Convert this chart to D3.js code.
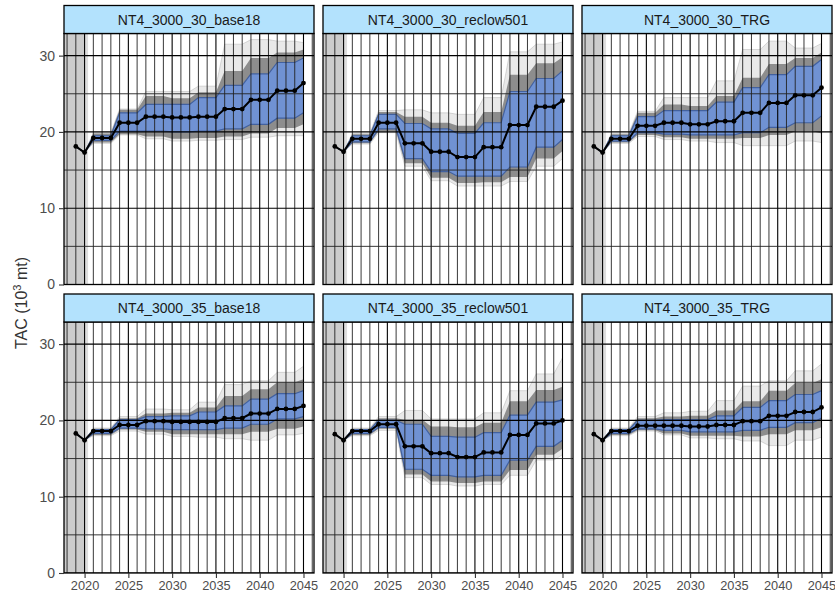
<!DOCTYPE html>
<html>
<head>
<meta charset="utf-8">
<script src="https://cdn.jsdelivr.net/npm/d3@7"></script>
<style>
  html, body { margin: 0; padding: 0; background: #ffffff; }
  svg { display: block; font-family: "Liberation Sans", Arial, Helvetica, sans-serif; }
</style>
</head>
<body>
<svg id="chart" width="835" height="599"></svg>
<script>
// ---------------- DATA ----------------
const years = [2019,2020,2021,2022,2023,2024,2025,2026,2027,2028,2029,2030,2031,2032,2033,2034,2035,2036,2037,2038,2039,2040,2041,2042,2043,2044,2045];
const panelTitles = ["NT4_3000_30_base18","NT4_3000_30_reclow501","NT4_3000_30_TRG","NT4_3000_35_base18","NT4_3000_35_reclow501","NT4_3000_35_TRG"];
const yTicks = [0,10,20,30];
const xTicks = [2020,2025,2030,2035,2040,2045];

// Panel 1: NT4_3000_30_base18
const med_30_base18 = [18.1,17.3,19.2,19.2,19.2,21.2,21.2,21.2,22.0,22.0,22.0,21.9,21.9,21.9,22.0,22.0,22.0,23.0,23.0,23.0,24.2,24.2,24.2,25.4,25.4,25.4,26.4];
const bLo_30_base18 = [18.1,17.3,18.9,18.9,18.9,20.1,20.1,20.1,20.1,20.1,20.1,20.0,20.0,20.0,20.1,20.1,20.1,20.4,20.4,20.4,21.0,21.0,21.0,21.8,21.8,21.8,22.5];
const bHi_30_base18 = [18.1,17.3,19.5,19.5,19.5,22.5,22.5,22.5,23.6,23.6,23.6,23.6,23.6,23.6,24.5,24.5,24.5,26.1,26.1,26.1,27.6,27.6,27.6,29.1,29.1,29.1,29.7];
const gLo_30_base18 = [18.1,17.3,18.6,18.6,18.6,19.7,19.7,19.7,19.4,19.4,19.4,19.1,19.1,19.1,19.2,19.2,19.2,19.4,19.4,19.4,19.8,19.8,19.8,20.5,20.5,20.5,21.0];
const gHi_30_base18 = [18.1,17.3,19.8,19.8,19.8,22.9,22.9,22.9,24.7,24.7,24.7,24.4,24.4,24.4,25.2,25.2,25.2,28.0,28.0,28.0,29.7,29.7,29.7,30.4,30.4,30.4,30.8];
const sLo_30_base18 = [18.1,17.3,18.5,18.5,18.5,19.6,19.6,19.6,19.1,19.1,19.1,18.8,18.8,18.8,18.9,18.9,18.9,19.0,19.0,19.0,19.3,19.3,19.3,19.5,19.5,19.5,19.5];
const sHi_30_base18 = [18.1,17.3,19.9,19.9,19.9,23.0,23.0,23.0,25.3,25.3,25.3,25.3,25.3,25.3,26.0,26.0,26.0,31.5,31.5,31.5,32.1,32.1,32.1,31.9,31.9,31.9,31.7];

// Panel 2: NT4_3000_30_reclow501
const med_30_reclow = [18.1,17.4,19.1,19.1,19.1,21.2,21.2,21.2,18.5,18.5,18.5,17.4,17.4,17.4,16.7,16.7,16.7,18.0,18.0,18.0,20.9,20.9,20.9,23.3,23.3,23.3,24.1];
const bLo_30_reclow = [18.1,17.4,18.7,18.7,18.7,20.4,20.4,20.4,16.5,16.5,16.5,14.8,14.8,14.8,14.2,14.2,14.2,14.2,14.2,14.2,15.4,15.4,15.4,18.0,18.0,18.0,19.0];
const bHi_30_reclow = [18.1,17.4,19.5,19.5,19.5,22.3,22.3,22.3,21.1,21.1,21.1,20.4,20.4,20.4,19.8,19.8,19.8,21.2,21.2,21.2,25.3,25.3,25.3,27.0,27.0,27.0,28.0];
const gLo_30_reclow = [18.1,17.4,18.5,18.5,18.5,20.1,20.1,20.1,15.9,15.9,15.9,14.0,14.0,14.0,13.3,13.3,13.3,13.4,13.4,13.4,14.1,14.1,14.1,16.5,16.5,16.5,17.5];
const gHi_30_reclow = [18.1,17.4,19.7,19.7,19.7,22.6,22.6,22.6,22.0,22.0,22.0,21.2,21.2,21.2,20.8,20.8,20.8,22.6,22.6,22.6,27.5,27.5,27.5,29.0,29.0,29.0,29.8];
const sLo_30_reclow = [18.1,17.4,18.4,18.4,18.4,19.9,19.9,19.9,15.5,15.5,15.5,13.6,13.6,13.6,12.9,12.9,12.9,12.9,12.9,12.9,13.5,13.5,13.5,15.5,15.5,15.5,16.5];
const sHi_30_reclow = [18.1,17.4,19.8,19.8,19.8,22.8,22.8,22.8,22.9,22.9,22.9,22.5,22.5,22.5,22.3,22.3,22.3,24.5,24.5,24.5,30.5,30.5,30.5,31.5,31.5,31.5,31.8];

// Panel 3: NT4_3000_30_TRG
const med_30_TRG = [18.1,17.3,19.1,19.1,19.1,20.8,20.8,20.8,21.2,21.2,21.2,21.0,21.0,21.0,21.4,21.4,21.4,22.5,22.5,22.5,23.8,23.8,23.8,24.8,24.8,24.8,25.8];
const bLo_30_TRG = [18.1,17.3,18.8,18.8,18.8,19.9,19.9,19.9,19.7,19.7,19.7,19.6,19.6,19.6,19.6,19.6,19.6,19.9,19.9,19.9,20.6,20.6,20.6,21.2,21.2,21.2,22.1];
const bHi_30_TRG = [18.1,17.3,19.5,19.5,19.5,22.0,22.0,22.0,22.8,22.8,22.8,22.8,22.8,22.8,23.9,23.9,23.9,25.8,25.8,25.8,27.5,27.5,27.5,28.6,28.6,28.6,29.5];
const gLo_30_TRG = [18.1,17.3,18.6,18.6,18.6,19.6,19.6,19.6,19.3,19.3,19.3,19.1,19.1,19.1,19.1,19.1,19.1,19.2,19.2,19.2,19.6,19.6,19.6,20.1,20.1,20.1,19.8];
const gHi_30_TRG = [18.1,17.3,19.7,19.7,19.7,22.5,22.5,22.5,23.6,23.6,23.6,23.4,23.4,23.4,24.7,24.7,24.7,27.1,27.1,27.1,28.9,28.9,28.9,29.7,29.7,29.7,30.4];
const sLo_30_TRG = [18.1,17.3,18.5,18.5,18.5,19.4,19.4,19.4,19.0,19.0,19.0,18.8,18.8,18.8,18.6,18.6,18.6,18.2,18.2,18.2,18.2,18.2,18.2,18.8,18.8,18.8,18.6];
const sHi_30_TRG = [18.1,17.3,19.8,19.8,19.8,22.7,22.7,22.7,24.5,24.5,24.5,24.5,24.5,24.5,26.7,26.7,26.7,30.8,30.8,30.8,31.9,31.9,31.9,31.0,31.0,31.0,31.6];

// Panel 4: NT4_3000_35_base18
const med_35_base18 = [18.3,17.4,18.6,18.6,18.6,19.4,19.4,19.4,19.9,19.9,19.9,19.8,19.8,19.8,19.8,19.8,19.8,20.3,20.3,20.3,20.9,20.9,20.9,21.5,21.5,21.5,21.9];
const bLo_35_base18 = [18.3,17.4,18.3,18.3,18.3,19.0,19.0,19.0,18.9,18.9,18.9,18.8,18.8,18.8,18.8,18.8,18.8,19.0,19.0,19.0,19.5,19.5,19.5,20.2,20.2,20.2,20.5];
const bHi_35_base18 = [18.3,17.4,18.8,18.8,18.8,20.1,20.1,20.1,20.5,20.5,20.5,20.6,20.6,20.6,21.1,21.1,21.1,21.9,21.9,21.9,22.8,22.8,22.8,23.5,23.5,23.5,23.9];
const gLo_35_base18 = [18.3,17.4,18.1,18.1,18.1,18.8,18.8,18.8,18.5,18.5,18.5,18.2,18.2,18.2,18.2,18.2,18.2,18.2,18.2,18.2,18.5,18.5,18.5,18.9,18.9,18.9,19.2];
const gHi_35_base18 = [18.3,17.4,18.9,18.9,18.9,20.3,20.3,20.3,20.9,20.9,20.9,21.0,21.0,21.0,21.7,21.7,21.7,23.2,23.2,23.2,24.1,24.1,24.1,25.0,25.0,25.0,25.4];
const sLo_35_base18 = [18.3,17.4,18.0,18.0,18.0,18.6,18.6,18.6,18.2,18.2,18.2,17.9,17.9,17.9,17.8,17.8,17.8,17.6,17.6,17.6,17.4,17.4,17.4,18.1,18.1,18.1,18.3];
const sHi_35_base18 = [18.3,17.4,19.0,19.0,19.0,20.5,20.5,20.5,21.5,21.5,21.5,21.4,21.4,21.4,22.4,22.4,22.4,24.7,24.7,24.7,25.2,25.2,25.2,26.3,26.3,26.3,27.1];

// Panel 5: NT4_3000_35_reclow501
const med_35_reclow = [18.2,17.4,18.6,18.6,18.6,19.5,19.5,19.5,16.6,16.6,16.6,15.7,15.7,15.7,15.2,15.2,15.2,15.8,15.8,15.8,18.1,18.1,18.1,19.6,19.6,19.6,20.0];
const bLo_35_reclow = [18.2,17.4,18.3,18.3,18.3,19.1,19.1,19.1,13.6,13.6,13.6,12.8,12.8,12.8,12.6,12.6,12.6,12.8,12.8,12.8,14.8,14.8,14.8,16.6,16.6,16.6,17.4];
const bHi_35_reclow = [18.2,17.4,18.8,18.8,18.8,20.0,20.0,20.0,19.5,19.5,19.5,17.9,17.9,17.9,17.8,17.8,17.8,18.4,18.4,18.4,20.7,20.7,20.7,22.4,22.4,22.4,22.7];
const gLo_35_reclow = [18.2,17.4,18.1,18.1,18.1,18.9,18.9,18.9,12.9,12.9,12.9,12.0,12.0,12.0,11.8,11.8,11.8,12.0,12.0,12.0,13.5,13.5,13.5,15.5,15.5,15.5,16.3];
const gHi_35_reclow = [18.2,17.4,18.9,18.9,18.9,20.3,20.3,20.3,20.1,20.1,20.1,19.2,19.2,19.2,19.1,19.1,19.1,19.7,19.7,19.7,22.5,22.5,22.5,24.0,24.0,24.0,24.4];
const sLo_35_reclow = [18.2,17.4,18.0,18.0,18.0,18.7,18.7,18.7,12.5,12.5,12.5,11.6,11.6,11.6,11.4,11.4,11.4,11.6,11.6,11.6,12.8,12.8,12.8,14.8,14.8,14.8,15.5];
const sHi_35_reclow = [18.2,17.4,19.0,19.0,19.0,20.5,20.5,20.5,21.3,21.3,21.3,20.2,20.2,20.2,20.2,20.2,20.2,21.0,21.0,21.0,23.9,23.9,23.9,26.1,26.1,26.1,28.2];

// Panel 6: NT4_3000_35_TRG
const med_35_TRG = [18.2,17.4,18.6,18.6,18.6,19.3,19.3,19.3,19.3,19.3,19.3,19.2,19.2,19.2,19.4,19.4,19.4,19.9,19.9,19.9,20.6,20.6,20.6,21.1,21.1,21.1,21.7];
const bLo_35_TRG = [18.2,17.4,18.3,18.3,18.3,18.9,18.9,18.9,18.7,18.7,18.7,18.5,18.5,18.5,18.5,18.5,18.5,18.7,18.7,18.7,19.1,19.1,19.1,19.7,19.7,19.7,20.3];
const bHi_35_TRG = [18.2,17.4,18.8,18.8,18.8,20.0,20.0,20.0,20.1,20.1,20.1,20.1,20.1,20.1,20.6,20.6,20.6,21.7,21.7,21.7,22.6,22.6,22.6,23.4,23.4,23.4,23.9];
const gLo_35_TRG = [18.2,17.4,18.1,18.1,18.1,18.7,18.7,18.7,18.3,18.3,18.3,18.0,18.0,18.0,18.0,18.0,18.0,17.9,17.9,17.9,18.2,18.2,18.2,18.7,18.7,18.7,19.1];
const gHi_35_TRG = [18.2,17.4,18.9,18.9,18.9,20.3,20.3,20.3,20.5,20.5,20.5,20.6,20.6,20.6,21.3,21.3,21.3,22.5,22.5,22.5,23.9,23.9,23.9,24.9,24.9,24.9,25.4];
const sLo_35_TRG = [18.2,17.4,18.0,18.0,18.0,18.6,18.6,18.6,18.1,18.1,18.1,17.7,17.7,17.7,17.6,17.6,17.6,17.3,17.3,17.3,16.7,16.7,16.7,17.4,17.4,17.4,17.8];
const sHi_35_TRG = [18.2,17.4,19.0,19.0,19.0,20.5,20.5,20.5,21.0,21.0,21.0,21.2,21.2,21.2,22.6,22.6,22.6,24.5,24.5,24.5,25.2,25.2,25.2,26.5,26.5,26.5,27.4];

const panels = [
  {title: panelTitles[0], med: med_30_base18, bLo: bLo_30_base18, bHi: bHi_30_base18, gLo: gLo_30_base18, gHi: gHi_30_base18, sLo: sLo_30_base18, sHi: sHi_30_base18},
  {title: panelTitles[1], med: med_30_reclow, bLo: bLo_30_reclow, bHi: bHi_30_reclow, gLo: gLo_30_reclow, gHi: gHi_30_reclow, sLo: sLo_30_reclow, sHi: sHi_30_reclow},
  {title: panelTitles[2], med: med_30_TRG, bLo: bLo_30_TRG, bHi: bHi_30_TRG, gLo: gLo_30_TRG, gHi: gHi_30_TRG, sLo: sLo_30_TRG, sHi: sHi_30_TRG},
  {title: panelTitles[3], med: med_35_base18, bLo: bLo_35_base18, bHi: bHi_35_base18, gLo: gLo_35_base18, gHi: gHi_35_base18, sLo: sLo_35_base18, sHi: sHi_35_base18},
  {title: panelTitles[4], med: med_35_reclow, bLo: bLo_35_reclow, bHi: bHi_35_reclow, gLo: gLo_35_reclow, gHi: gHi_35_reclow, sLo: sLo_35_reclow, sHi: sHi_35_reclow},
  {title: panelTitles[5], med: med_35_TRG, bLo: bLo_35_TRG, bHi: bHi_35_TRG, gLo: gLo_35_TRG, gHi: gHi_35_TRG, sLo: sLo_35_TRG, sHi: sHi_35_TRG}
];

// ---------------- LAYOUT ----------------
const svg = d3.select("#chart");
const colX = [64, 323, 582];
const rowY = [5.5, 294];
const stripH = 28;
const panelW = 250;
const plotH = 251;
const histEnd = 2020;

const x = d3.scaleLinear().domain([2017.65, 2046.2]).range([0, panelW]);
const y = d3.scaleLinear().domain([0, 32.9]).range([plotH, 0]);

function band(lo, hi) {
  return d3.area()
    .x((d, i) => x(years[i]))
    .y0((d, i) => y(lo[i]))
    .y1((d, i) => y(hi[i]))(years);
}
function lineOf(arr) {
  return d3.line().x((d, i) => x(years[i])).y((d, i) => y(arr[i]))(years);
}

panels.forEach((p, k) => {
  const col = k % 3, row = Math.floor(k / 3);
  const gx = colX[col], gy = rowY[row] + stripH;
  const g = svg.append("g").attr("transform", `translate(${gx},${gy})`);

  const clipId = "clip" + k;
  g.append("clipPath").attr("id", clipId)
    .append("rect").attr("width", panelW).attr("height", plotH);

  const body = g.append("g").attr("clip-path", `url(#${clipId})`);
  body.append("rect").attr("width", panelW).attr("height", plotH).attr("fill", "#ffffff");

  // historical period shading
  body.append("rect")
    .attr("x", 0).attr("y", 0)
    .attr("width", x(histEnd) - x(x.domain()[0]))
    .attr("height", plotH).attr("fill", "#cccccc");
  body.append("rect")
    .attr("x", x(histEnd)).attr("y", 0)
    .attr("width", x(histEnd + 0.4) - x(histEnd))
    .attr("height", plotH).attr("fill", "#dedede");

  // sparse outer envelope
  body.append("path").attr("d", band(p.sLo, p.sHi))
    .attr("fill", "#c8c8c8").attr("fill-opacity", 0.4)
    .attr("stroke", "#9a9a9a").attr("stroke-width", 0.6).attr("stroke-opacity", 0.6);
  // dense envelope
  body.append("path").attr("d", band(p.gLo, p.gHi))
    .attr("fill", "#6e6e6e").attr("fill-opacity", 0.75);
  // blue inner ribbon
  body.append("path").attr("d", band(p.bLo, p.bHi))
    .attr("fill", "#7092d3");
  body.append("path").attr("d", lineOf(p.bHi)).attr("fill", "none")
    .attr("stroke", "#42619f").attr("stroke-width", 1.2);
  body.append("path").attr("d", lineOf(p.bLo)).attr("fill", "none")
    .attr("stroke", "#42619f").attr("stroke-width", 1.2);

  // grid on top
  const grid = body.append("g");
  grid.selectAll("line.v").data(d3.range(2018, 2047)).join("line")
    .attr("x1", d => x(d)).attr("x2", d => x(d))
    .attr("y1", 0).attr("y2", plotH)
    .attr("stroke", d => d % 5 === 0 ? "#000000" : "#222222")
    .attr("stroke-width", d => d % 5 === 0 ? 1.1 : 0.9);
  grid.selectAll("line.h").data(d3.range(0, 31, 5)).join("line")
    .attr("x1", 0).attr("x2", panelW)
    .attr("y1", d => y(d)).attr("y2", d => y(d))
    .attr("stroke", d => d % 10 === 0 ? "#000000" : "#222222")
    .attr("stroke-width", d => d % 10 === 0 ? 1.1 : 0.9);

  // median
  body.append("path").attr("d", lineOf(p.med)).attr("fill", "none")
    .attr("stroke", "#000").attr("stroke-width", 2);
  body.selectAll("circle").data(p.med).join("circle")
    .attr("cx", (d, i) => x(years[i])).attr("cy", d => y(d))
    .attr("r", 2.4).attr("fill", "#000");

  // panel border
  g.append("rect").attr("width", panelW).attr("height", plotH)
    .attr("fill", "none").attr("stroke", "#000").attr("stroke-width", 1.3);

  // strip
  const s = svg.append("g").attr("transform", `translate(${gx},${rowY[row]})`);
  s.append("rect").attr("width", panelW).attr("height", stripH)
    .attr("fill", "#b3e2fd").attr("stroke", "#000").attr("stroke-width", 1.3);
  s.append("text").attr("x", panelW / 2).attr("y", stripH / 2 + 5)
    .attr("text-anchor", "middle").attr("font-size", 14).attr("fill", "#1a1a1a")
    .text(p.title);

  // axes
  if (col === 0) {
    const ax = g.append("g").call(d3.axisLeft(y).tickValues(yTicks).tickSize(5).tickPadding(4).tickFormat(d3.format("d")));
    ax.select(".domain").remove();
    ax.selectAll("line").attr("stroke", "#333").attr("stroke-width", 1.1);
    ax.selectAll("text").attr("font-size", 14).attr("fill", "#4d4d4d").attr("font-family", "Liberation Sans, Arial, sans-serif");
  }
  if (row === 1) {
    const ax = g.append("g").attr("transform", `translate(0,${plotH})`)
      .call(d3.axisBottom(x).tickValues(xTicks).tickSize(5).tickPadding(3).tickFormat(d3.format("d")));
    ax.select(".domain").remove();
    ax.selectAll("line").attr("stroke", "#333").attr("stroke-width", 1.1);
    ax.selectAll("text").attr("font-size", 12.8).attr("fill", "#4d4d4d").attr("font-family", "Liberation Sans, Arial, sans-serif");
  }
});

// y-axis title
const yt = svg.append("text")
  .attr("transform", "translate(27,303) rotate(-90)")
  .attr("text-anchor", "middle").attr("font-size", 16).attr("fill", "#333");
yt.append("tspan").text("TAC (10");
yt.append("tspan").attr("dy", -6).attr("font-size", 11).text("3");
yt.append("tspan").attr("dy", 6).text(" mt)");
</script>
</body>
</html>
